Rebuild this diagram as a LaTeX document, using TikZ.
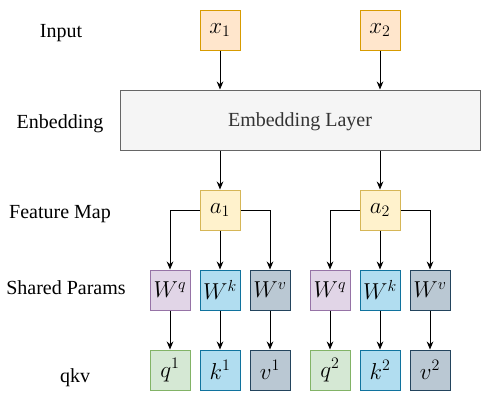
\documentclass[tikz,border=0pt]{standalone}
\usepackage[no-math]{fontspec}
\setmainfont{Liberation Serif}
\usepackage{xcolor}
\usetikzlibrary{arrows.meta}
\usetikzlibrary{calc}

\definecolor{inpfill}{HTML}{FFE6CC}
\definecolor{inpdraw}{HTML}{D79B00}
\definecolor{featfill}{HTML}{FFF2CC}
\definecolor{featdraw}{HTML}{D6B656}
\definecolor{wqfill}{HTML}{E1D5E7}
\definecolor{wqdraw}{HTML}{9673A6}
\definecolor{wkfill}{HTML}{B1DDF0}
\definecolor{wkdraw}{HTML}{10739E}
\definecolor{wvfill}{HTML}{BAC8D3}
\definecolor{wvdraw}{HTML}{23445D}
\definecolor{qfill}{HTML}{D5E8D4}
\definecolor{qdraw}{HTML}{82B366}
\definecolor{embfill}{HTML}{F5F5F5}
\definecolor{embdraw}{HTML}{666666}
\definecolor{embtext}{HTML}{333333}

\tikzset{
    sqbox/.style={draw, line width=0.75pt, minimum width=30pt, minimum height=30pt, inner sep=0pt, font=\fontsize{17}{20}\selectfont},
    inpbox/.style={sqbox, fill=inpfill, draw=inpdraw},
    featbox/.style={sqbox, fill=featfill, draw=featdraw},
    wqbox/.style={sqbox, fill=wqfill, draw=wqdraw},
    wkbox/.style={sqbox, fill=wkfill, draw=wkdraw},
    wvbox/.style={sqbox, fill=wvfill, draw=wvdraw},
    qbox/.style={sqbox, fill=qfill, draw=qdraw},
    rowlabel/.style={font=\fontsize{15}{18}\selectfont, inner sep=0pt},
    arr/.style={-{Stealth[length=6pt,width=5pt]}, line width=0.75pt}
}

\begin{document}
\begin{tikzpicture}[x=0.75pt, y=-0.75pt]
        \newcommand{\rowinput}{30}
        \newcommand{\rowemb}{120}
        \newcommand{\rowfeat}{210}
        \newcommand{\rowparam}{290}
        \newcommand{\rowqkv}{370}
        \newcommand{\colgap}{50}
        \useasboundingbox (0,0) rectangle (491,401);
        % row labels
        \node[rowlabel] (lblinput) at (61,\rowinput+3) {Input};
        \node[rowlabel] (lblemb) at (60,\rowemb+4) {Enbedding};
        \node[rowlabel] (lblfeat) at (60,\rowfeat+4) {Feature Map};
        \node[rowlabel] (lblparam) at (66,\rowparam-2) {Shared Params};
        \node[rowlabel] (lblqkv) at (75,\rowqkv+8) {qkv};
        % embedding layer
        \node[draw=embdraw, fill=embfill, line width=0.75pt, minimum width=270pt, minimum height=45pt,
              text=embtext, font=\fontsize{15}{18}\selectfont, text depth=1pt] (emb) at (300,\rowemb) {Embedding Layer};
        % two token columns
        \foreach \i/\cx in {1/220, 2/380}{
            \node[inpbox] (x\i) at (\cx,\rowinput) {$x_{\i}$};
            \node[featbox] (a\i) at (\cx,\rowfeat) {$a_{\i}$};
            \node[wqbox] (wq\i) at (\cx-\colgap,\rowparam) {$W^q$};
            \node[wkbox] (wk\i) at (\cx,\rowparam) {$W^k$};
            \node[wvbox] (wv\i) at (\cx+\colgap,\rowparam) {$W^v$};
            \node[qbox] (q\i) at (\cx-\colgap,\rowqkv) {$q^{\i}$};
            \node[wkbox] (k\i) at (\cx,\rowqkv) {$k^{\i}$};
            \node[wvbox] (v\i) at (\cx+\colgap,\rowqkv) {$v^{\i}$};
            \draw[arr] (x\i) -- (x\i |- emb.north);
            \draw[arr] (x\i |- emb.south) -- (a\i);
            \draw[arr] (a\i.west) -| (wq\i);
            \draw[arr] (a\i) -- (wk\i);
            \draw[arr] (a\i.east) -| (wv\i);
            \draw[arr] (wq\i) -- (q\i);
            \draw[arr] (wk\i) -- (k\i);
            \draw[arr] (wv\i) -- (v\i);
        }
\end{tikzpicture}
\end{document}
